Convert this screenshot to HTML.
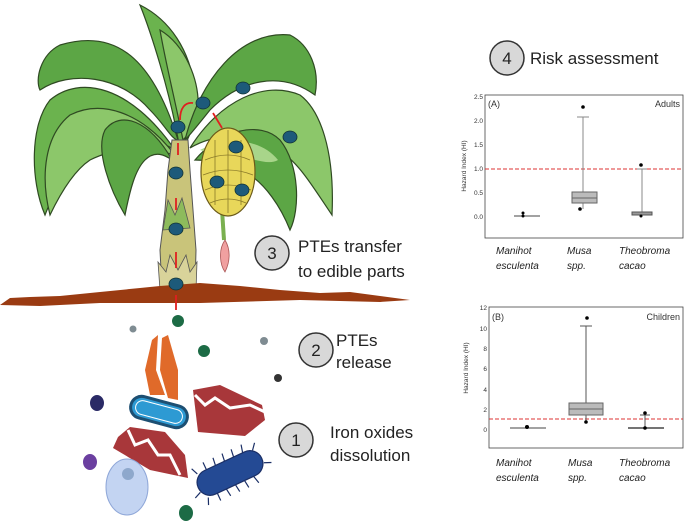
<!DOCTYPE html>
<html><head><meta charset="utf-8"><style>
body{margin:0;background:#fff;width:685px;height:523px;overflow:hidden;font-family:"Liberation Sans",sans-serif}
svg{position:absolute;left:0;top:0}
</style></head><body>
<svg width="685" height="523" viewBox="0 0 685 523" xmlns="http://www.w3.org/2000/svg" font-family="Liberation Sans, sans-serif">
<!-- leaves -->
<g stroke="#2f4a22" stroke-width="1.2">
<path d="M178,140 C150,50 110,30 60,45 C40,55 35,80 40,90 C70,70 120,75 150,110 C165,125 172,140 178,140Z" fill="#5ca645"/>
<path d="M175,150 C130,85 80,75 50,100 C30,125 30,180 45,215 C55,190 65,165 80,150 C110,130 150,135 175,150Z" fill="#6bb34e"/>
<path d="M175,155 C140,110 100,100 70,115 C45,135 40,175 50,215 C62,190 75,170 90,160 C120,145 150,148 175,155Z" fill="#8cc76a"/>
<path d="M172,160 C150,120 120,110 105,130 C95,150 110,190 125,215 C130,190 135,170 145,160 C155,150 165,155 172,160Z" fill="#5ca645"/>
<path d="M180,150 C170,90 150,30 140,5 C170,20 190,50 195,90 C197,120 190,140 180,150Z" fill="#6bb34e"/>
<path d="M183,140 C175,100 165,60 160,30 C185,45 200,80 198,110 C195,125 188,135 183,140Z" fill="#8cc76a"/>
<path d="M185,140 C200,80 240,30 290,35 C310,45 320,70 315,95 C280,70 240,80 210,110 C198,125 190,135 185,140Z" fill="#5ca645"/>
<path d="M190,148 C220,100 265,80 300,95 C320,110 335,150 332,215 C315,190 300,165 285,155 C260,135 220,130 190,148Z" fill="#8cc76a"/>
<path d="M195,160 C220,130 260,120 280,140 C300,165 300,210 290,230 C280,205 265,185 250,175 C230,165 210,160 195,160Z" fill="#5ca645"/>
<path d="M200,150 C230,135 262,140 278,160 C270,165 258,160 245,158 C230,155 215,155 200,150Z" fill="#a8d58a" stroke="none"/>
</g>
<!-- trunk -->
<path d="M162,290 L160,250 L165,210 L168,170 L172,140 L188,140 L190,170 L193,210 L196,250 L195,290Z" fill="#c9c47a" stroke="#555" stroke-width="1"/>
<path d="M160,290 L158,262 L166,272 L170,255 L178,270 L186,255 L190,272 L197,262 L196,290Z" fill="#d9d39a" stroke="#555" stroke-width="0.8"/>
<path d="M163,230 L168,200 L175,215 L182,198 L190,228Z" fill="#8dbb5c" stroke="#555" stroke-width="0.8"/>
<!-- banana stalk & bunch -->
<path d="M222,210 L224,240" stroke="#7ab050" stroke-width="4"/>
<path d="M225,240 C218,250 220,265 225,272 C230,262 231,250 225,240Z" fill="#f0a0a0" stroke="#a55" stroke-width="0.8"/>
<ellipse cx="228" cy="172" rx="27" ry="44" fill="#e8d75a" stroke="#6b5a1a" stroke-width="1.2"/>
<g stroke="#8a7a2a" stroke-width="0.8" fill="none">
<path d="M205,160 Q228,150 250,160"/><path d="M203,175 Q228,165 253,175"/><path d="M205,190 Q228,180 251,190"/><path d="M210,203 Q228,195 246,203"/>
<path d="M215,140 L215,205"/><path d="M228,130 L228,213"/><path d="M241,140 L241,205"/>
</g>
<!-- ground -->
<path d="M0,305 L10,298 L30,297 L60,296 L100,292 L140,288 L160,286 L200,283 L240,286 L280,290 L320,293 L350,292 L380,296 L410,300 L380,302 L300,300 L200,303 L100,303 L40,306Z" fill="#9a3b12"/>
<!-- arrows -->
<g stroke="#e02020" stroke-width="1.8" fill="#e02020">
<path d="M176,310 V295"/><path d="M176,268 V252"/><path d="M176,210 V198"/><path d="M178,155 V143"/>
<path d="M180,120 C180,108 185,102 193,103" fill="none"/><path d="M213,113 L222,128"/>
</g>
<!-- blue dots -->
<g fill="#1d5a7a" stroke="#133" stroke-width="0.8">
<ellipse cx="178" cy="127" rx="7" ry="6"/><ellipse cx="203" cy="103" rx="7" ry="6"/><ellipse cx="243" cy="88" rx="7" ry="6"/><ellipse cx="290" cy="137" rx="7" ry="6"/><ellipse cx="236" cy="147" rx="7" ry="6"/><ellipse cx="176" cy="173" rx="7" ry="6"/><ellipse cx="217" cy="182" rx="7" ry="6"/><ellipse cx="242" cy="190" rx="7" ry="6"/><ellipse cx="176" cy="229" rx="7" ry="6"/><ellipse cx="176" cy="284" rx="7" ry="6"/>
</g>
<!-- soil -->
<path d="M152,340 L158,335 L156,370 L165,395 L150,395 L145,370Z" fill="#e06a2a"/>
<path d="M162,338 L168,335 L178,370 L178,400 L168,398 L160,370Z" fill="#e06a2a"/>
<path d="M193,390 L220,385 L262,405 L265,420 L245,436 L198,432Z" fill="#a8373a"/>
<path d="M195,395 L205,405 L215,398 L230,408 L250,405 L265,412" stroke="#fff" stroke-width="3" fill="none"/>
<path d="M118,437 L130,427 L165,432 L185,455 L188,478 L150,470 L113,448Z" fill="#a8373a"/>
<path d="M128,430 L135,445 L148,440 L158,455 L170,455 L180,475" stroke="#fff" stroke-width="3" fill="none"/>
<g transform="rotate(15 159 412)"><rect x="130" y="401" width="58" height="22" rx="11" fill="#2d9ad3" stroke="#1d4f72" stroke-width="3"/><rect x="135" y="405" width="48" height="14" rx="7" fill="none" stroke="#fff" stroke-width="1"/></g>
<g transform="rotate(-25 230 473)" stroke="#1b2f66" stroke-width="1.2">
<path d="M200,460 l-3,-7 M210,460 l0,-8 M220,460 l1,-8 M230,460 l1,-8 M240,460 l1,-8 M250,460 l2,-8 M260,462 l5,-6 M200,486 l-3,7 M210,486 l0,8 M220,486 l1,8 M230,486 l1,8 M240,486 l1,8 M250,486 l2,8 M265,478 l7,3 M195,478 l-7,3"/>
<rect x="195" y="460" width="70" height="26" rx="13" fill="#244a94"/></g>
<ellipse cx="127" cy="487" rx="21" ry="28" fill="#c3d4f2" stroke="#8fa7d8" stroke-width="1"/>
<circle cx="128" cy="474" r="6" fill="#8ea8cc"/>
<circle cx="133" cy="329" r="3.5" fill="#7f8c92"/><ellipse cx="178" cy="321" rx="6" ry="6" fill="#1c6b45"/><ellipse cx="204" cy="351" rx="6" ry="6" fill="#1c6b45"/><circle cx="264" cy="341" r="4" fill="#7f8c92"/><circle cx="278" cy="378" r="4" fill="#333"/><ellipse cx="97" cy="403" rx="7" ry="8" fill="#2a2a66"/><ellipse cx="90" cy="462" rx="7" ry="8" fill="#6b3fa0"/><ellipse cx="186" cy="513" rx="7" ry="8" fill="#1c6b45"/>
<!-- step labels -->
<g fill="#d8d8d8" stroke="#333" stroke-width="1.5">
<circle cx="507" cy="58" r="17"/><circle cx="272" cy="253" r="17"/><circle cx="316" cy="350" r="17"/><circle cx="296" cy="440" r="17"/></g>
<g font-size="17" fill="#222">
<text x="507" y="64" text-anchor="middle">4</text><text x="272" y="259" text-anchor="middle">3</text><text x="316" y="356" text-anchor="middle">2</text><text x="296" y="446" text-anchor="middle">1</text>
<text x="530" y="64">Risk assessment</text>
<text x="298" y="252">PTEs transfer</text><text x="298" y="277">to edible parts</text>
<text x="336" y="346">PTEs</text><text x="336" y="368">release</text>
<text x="330" y="438">Iron oxides</text><text x="330" y="461">dissolution</text>
</g>
<!-- Chart A -->
<g font-size="6.5" fill="#333">
<rect x="485" y="95" width="198" height="143" fill="none" stroke="#444" stroke-width="0.8"/>
<g text-anchor="end"><text x="483" y="99">2.5</text><text x="483" y="123">2.0</text><text x="483" y="147">1.5</text><text x="483" y="171">1.0</text><text x="483" y="195">0.5</text><text x="483" y="219">0.0</text></g>
<text transform="translate(466,166) rotate(-90)" text-anchor="middle">Hazard Index (HI)</text>
<text x="488" y="107" font-size="9">(A)</text><text x="680" y="107" font-size="9" text-anchor="end">Adults</text>
<line x1="485" y1="169" x2="683" y2="169" stroke="#d33" stroke-dasharray="4,2" stroke-width="0.9"/>
<line x1="514" y1="216" x2="540" y2="216" stroke="#444"/><circle cx="523" cy="213" r="1.5" fill="#000"/><circle cx="523" cy="216" r="1.5" fill="#000"/>
<line x1="583" y1="117" x2="583" y2="209" stroke="#888"/><line x1="577" y1="117" x2="589" y2="117" stroke="#888"/>
<rect x="572" y="192" width="25" height="11" fill="#bbb" stroke="#666"/><line x1="572" y1="198" x2="597" y2="198" stroke="#666"/>
<circle cx="583" cy="107" r="1.8" fill="#000"/><circle cx="580" cy="209" r="1.8" fill="#000"/>
<line x1="642" y1="169" x2="642" y2="213" stroke="#888"/><line x1="637" y1="169" x2="647" y2="169" stroke="#888"/>
<rect x="632" y="212" width="20" height="3" fill="#999" stroke="#555"/><circle cx="641" cy="165" r="1.8" fill="#000"/><circle cx="641" cy="216" r="1.5" fill="#000"/>
</g>
<g font-size="10" font-style="italic" fill="#222">
<text x="496" y="254">Manihot</text><text x="496" y="269">esculenta</text>
<text x="567" y="254">Musa</text><text x="567" y="269">spp.</text>
<text x="619" y="254">Theobroma</text><text x="619" y="269">cacao</text>
</g>
<!-- Chart B -->
<g font-size="6.5" fill="#333">
<rect x="489" y="307" width="194" height="141" fill="none" stroke="#444" stroke-width="0.8"/>
<g text-anchor="end"><text x="487" y="310">12</text><text x="487" y="331">10</text><text x="487" y="351">8</text><text x="487" y="371">6</text><text x="487" y="392">4</text><text x="487" y="412">2</text><text x="487" y="432">0</text></g>
<text transform="translate(468,368) rotate(-90)" text-anchor="middle">Hazard Index (HI)</text>
<text x="492" y="320" font-size="9">(B)</text><text x="680" y="320" font-size="9" text-anchor="end">Children</text>
<line x1="489" y1="419" x2="683" y2="419" stroke="#d33" stroke-dasharray="4,2" stroke-width="0.9"/>
<line x1="510" y1="428" x2="546" y2="428" stroke="#444"/><circle cx="527" cy="427" r="2" fill="#000"/>
<line x1="586" y1="326" x2="586" y2="421" stroke="#555"/><line x1="580" y1="326" x2="592" y2="326" stroke="#555"/>
<rect x="569" y="403" width="34" height="12" fill="#bbb" stroke="#666"/><line x1="569" y1="409" x2="603" y2="409" stroke="#666"/>
<circle cx="587" cy="318" r="1.8" fill="#000"/><circle cx="586" cy="422" r="1.8" fill="#000"/>
<line x1="645" y1="415" x2="645" y2="428" stroke="#555"/><line x1="640" y1="415" x2="650" y2="415" stroke="#555"/>
<line x1="628" y1="428" x2="664" y2="428" stroke="#222" stroke-width="1.2"/><circle cx="645" cy="413" r="1.8" fill="#000"/><circle cx="645" cy="428" r="1.8" fill="#000"/>
</g>
<g font-size="10" font-style="italic" fill="#222">
<text x="496" y="466">Manihot</text><text x="496" y="481">esculenta</text>
<text x="568" y="466">Musa</text><text x="568" y="481">spp.</text>
<text x="619" y="466">Theobroma</text><text x="619" y="481">cacao</text>
</g>
</svg>
</body></html>
